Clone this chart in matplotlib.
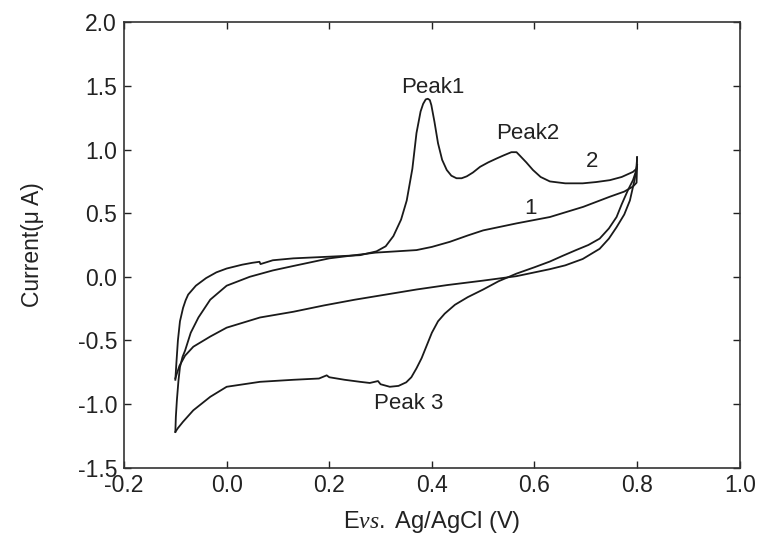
import matplotlib
matplotlib.use("Agg")
import matplotlib.pyplot as plt

plt.rcParams['font.family'] = ['Liberation Sans', 'DejaVu Sans']
plt.rcParams['mathtext.fontset'] = 'custom'
plt.rcParams['mathtext.it'] = 'Liberation Serif:italic'
plt.rcParams['mathtext.rm'] = 'Liberation Sans'

# Scan 2 (modified electrode) - anodic sweep with Peak1 / Peak2
a_fwd_E = [-0.100, -0.098, -0.095, -0.091, -0.085, -0.080, -0.075, -0.060, -0.040, -0.020,
           0.000, 0.030, 0.050, 0.064, 0.066, 0.090, 0.130, 0.210, 0.260, 0.292,
           0.310, 0.325, 0.340, 0.351, 0.362, 0.370, 0.378, 0.383, 0.388, 0.392,
           0.396, 0.399, 0.405, 0.412, 0.420, 0.429, 0.438, 0.448, 0.458, 0.468,
           0.480, 0.494, 0.510, 0.526, 0.540, 0.555, 0.565, 0.571, 0.584, 0.597,
           0.612, 0.630, 0.660, 0.694, 0.720, 0.747, 0.770, 0.792, 0.799, 0.800]
a_fwd_I = [-0.81, -0.68, -0.50, -0.35, -0.245, -0.185, -0.14, -0.07, -0.01, 0.035,
           0.065, 0.095, 0.11, 0.118, 0.10, 0.13, 0.145, 0.16, 0.17, 0.20,
           0.24, 0.32, 0.45, 0.60, 0.85, 1.13, 1.30, 1.36, 1.395, 1.40,
           1.39, 1.35, 1.22, 1.05, 0.92, 0.84, 0.795, 0.775, 0.775, 0.79,
           0.82, 0.865, 0.90, 0.93, 0.955, 0.98, 0.98, 0.955, 0.90, 0.84,
           0.785, 0.75, 0.735, 0.735, 0.745, 0.76, 0.785, 0.825, 0.85, 0.94]

# Scan 2 - cathodic sweep back to -0.1 V
a_rev_E = [0.800, 0.799, 0.795, 0.786, 0.775, 0.760, 0.745, 0.727, 0.694, 0.660,
           0.630, 0.565, 0.500, 0.430, 0.370, 0.310, 0.250, 0.190, 0.130, 0.065,
           0.000, -0.032, -0.065, -0.081, -0.092, -0.097, -0.100]
a_rev_I = [0.94, 0.85, 0.76, 0.60, 0.49, 0.39, 0.30, 0.22, 0.14, 0.09,
           0.06, 0.005, -0.03, -0.065, -0.10, -0.14, -0.18, -0.225, -0.275, -0.32,
           -0.40, -0.47, -0.55, -0.62, -0.70, -0.76, -0.80]

# Scan 1 - anodic sweep
b_fwd_E = [-0.100, -0.099, -0.097, -0.094, -0.091, -0.086, -0.081, -0.070, -0.055, -0.032,
           0.000, 0.045, 0.090, 0.130, 0.200, 0.250, 0.290, 0.330, 0.370, 0.400,
           0.435, 0.470, 0.500, 0.565, 0.630, 0.695, 0.747, 0.775, 0.792, 0.799,
           0.800]
b_fwd_I = [-1.22, -1.10, -0.97, -0.82, -0.71, -0.63, -0.58, -0.44, -0.32, -0.18,
           -0.07, 0.00, 0.05, 0.085, 0.145, 0.17, 0.19, 0.20, 0.21, 0.235,
           0.275, 0.325, 0.365, 0.42, 0.47, 0.55, 0.63, 0.67, 0.71, 0.74,
           0.88]

# Scan 1 - cathodic sweep with Peak 3
b_rev_E = [0.800, 0.797, 0.792, 0.782, 0.770, 0.760, 0.745, 0.727, 0.705, 0.681,
           0.655, 0.630, 0.600, 0.565, 0.530, 0.500, 0.470, 0.445, 0.425, 0.412,
           0.400, 0.390, 0.380, 0.370, 0.360, 0.350, 0.335, 0.318, 0.300, 0.295,
           0.279, 0.260, 0.230, 0.200, 0.195, 0.180, 0.130, 0.065, 0.000, -0.032,
           -0.065, -0.085, -0.095, -0.100]
b_rev_I = [0.88, 0.82, 0.76, 0.68, 0.57, 0.47, 0.38, 0.30, 0.25, 0.21,
           0.165, 0.12, 0.075, 0.025, -0.035, -0.10, -0.16, -0.22, -0.29, -0.35,
           -0.44, -0.54, -0.64, -0.72, -0.79, -0.83, -0.858, -0.865, -0.845, -0.82,
           -0.835, -0.826, -0.81, -0.79, -0.775, -0.80, -0.81, -0.826, -0.865, -0.944,
           -1.05, -1.14, -1.19, -1.22]

# label text and positions in data units
labels = ['Peak1', 'Peak2', '2', '1', 'Peak 3']
label_E = [0.402, 0.586, 0.713, 0.593, 0.355]
label_I = [1.49, 1.13, 0.905, 0.54, -1.0]

fig = plt.figure(figsize=(7.61, 5.43), dpi=100)
ax = fig.add_axes([0.163, 0.139, 0.809, 0.8196])

lc = '#1a1a1a'
for E, I in [(a_fwd_E, a_fwd_I), (a_rev_E, a_rev_I), (b_fwd_E, b_fwd_I), (b_rev_E, b_rev_I)]:
    ax.plot(E, I, color=lc, lw=1.3, solid_joinstyle='round')

for t, x, y in zip(labels, label_E, label_I):
    ax.text(x, y, t, ha='center', va='center', fontsize=16, color='#222222')

ax.set_xlim(-0.2, 1.0)
ax.set_ylim(-1.5, 2.0)
ax.set_xticks([-0.2, 0.0, 0.2, 0.4, 0.6, 0.8, 1.0])
ax.set_yticks([-1.5, -1.0, -0.5, 0.0, 0.5, 1.0, 1.5, 2.0])
ax.xaxis.set_major_formatter(matplotlib.ticker.FormatStrFormatter('%.1f'))
ax.yaxis.set_major_formatter(matplotlib.ticker.FormatStrFormatter('%.1f'))
ax.tick_params(direction='in', length=5, width=1, top=True, right=True,
               labelsize=16.5, colors='#222222', pad=5)
for s in ax.spines.values():
    s.set_linewidth(1.2)
    s.set_color('#333333')

ax.set_xlabel(r'E$\mathit{vs.}$ Ag/AgCl (V)', fontsize=17, color='#222222', labelpad=8)
ax.set_ylabel('Current(μ A)', fontsize=16.5, color='#222222', labelpad=24)

fig.savefig('out.png', dpi=100)
